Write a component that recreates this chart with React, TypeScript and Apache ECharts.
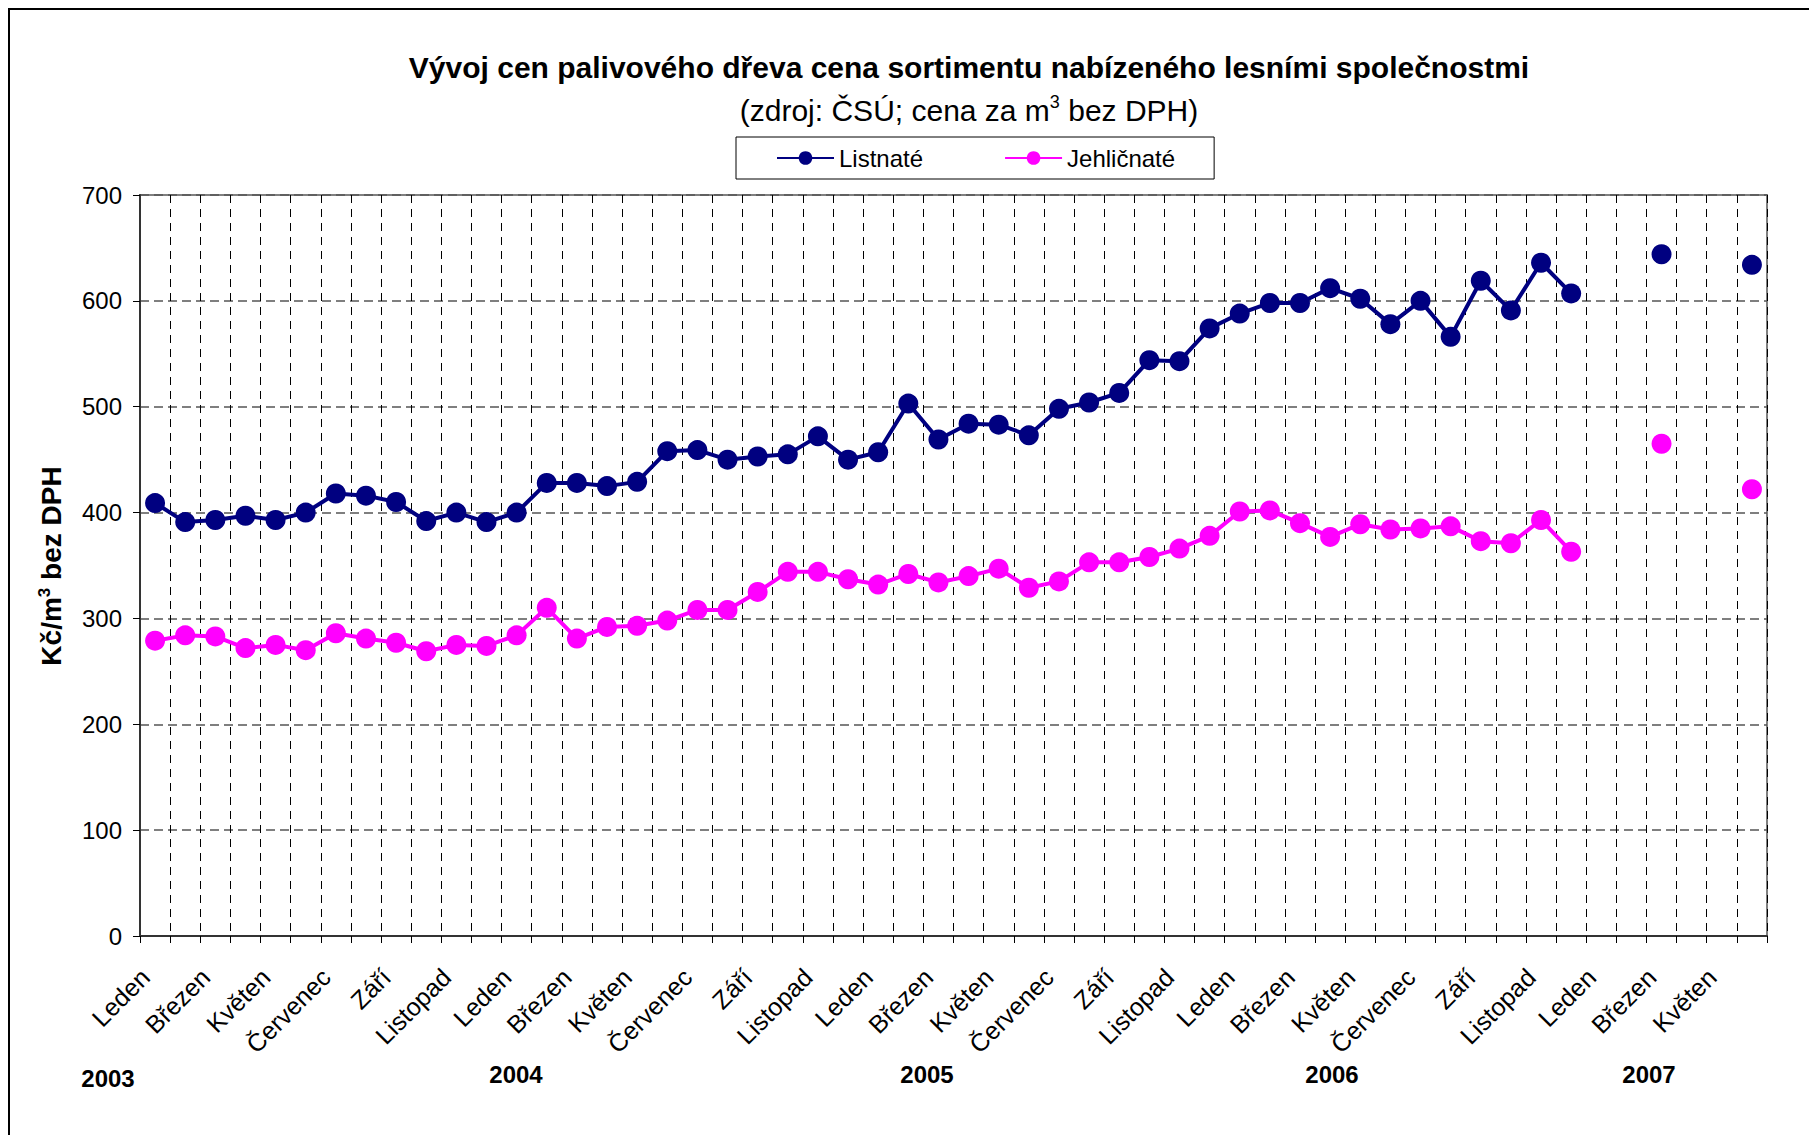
import React, { useEffect, useRef } from "react";
import * as echarts from "echarts";

const MONTHS = ["Leden", "Únor", "Březen", "Duben", "Květen", "Červen", "Červenec", "Srpen", "Září", "Říjen", "Listopad", "Prosinec"];
const YEARS = ["2003", "2004", "2005", "2006", "2007"];
const MONTHS_IN_LAST_YEAR = 6;

const LISTNATE: (number | null)[] = [
  409, 391, 393, 397, 393, 400, 418, 416, 410, 392, 400, 391,
  400, 428, 428, 425, 429, 458, 459, 450, 453, 455, 472, 450,
  457, 503, 469, 484, 483, 473, 498, 504, 513, 544, 543, 574,
  588, 598, 598, 612, 602, 578, 600, 566, 619, 591, 636, 607,
  null, null, 644, null, null, 634,
];

const JEHLICNATE: (number | null)[] = [
  279, 284, 283, 272, 275, 270, 286, 281, 277, 269, 275, 274,
  284, 310, 281, 292, 293, 298, 308, 308, 325, 344, 344, 337,
  332, 342, 334, 340, 347, 329, 335, 353, 353, 358, 366, 378,
  401, 402, 390, 377, 389, 384, 385, 387, 373, 371, 393, 363,
  null, null, 465, null, null, 422,
];

const Y_TICKS = { min: 0, max: 700, interval: 100 };

const TITLE = "Vývoj cen palivového dřeva cena sortimentu nabízeného lesními společnostmi";
const SUBTITLE = "(zdroj: ČSÚ; cena za m{sup|3} bez DPH)";
const Y_NAME = "{b|Kč/m}{s|3}{b| bez DPH}";

const FONT = "'Liberation Sans', Arial, sans-serif";

const categories: string[] = [];
YEARS.forEach((y, yi) => {
  const n = yi === YEARS.length - 1 ? MONTHS_IN_LAST_YEAR : MONTHS.length;
  for (let i = 0; i < n; i++) categories.push(MONTHS[i]);
});

const YEAR_LABEL_POS: [number, number][] = [
  [108, 1078],
  [516, 1074],
  [927, 1074],
  [1332, 1074],
  [1649, 1074],
];

export default function App() {
  const ref = useRef<HTMLDivElement>(null);
  useEffect(() => {
    if (!ref.current) return;
    const chart = echarts.init(ref.current, null, { renderer: "svg" });
    chart.setOption({
      animation: false,
      backgroundColor: "#fff",
      textStyle: { fontFamily: FONT },
      grid: {
        left: 140,
        right: 42,
        top: 195,
        bottom: 199,
        show: true,
        borderColor: "#808080",
        borderWidth: 2,
        backgroundColor: "transparent",
      },
      legend: {
        left: 736,
        top: 137,
        padding: [9, 39, 9, 40],
        itemWidth: 57,
        itemHeight: 17,
        itemGap: 81,
        borderColor: "#000",
        borderWidth: 1,
        textStyle: { fontSize: 24, color: "#000", fontFamily: FONT },
        data: ["Listnaté", "Jehličnaté"],
      },
      xAxis: {
        type: "category",
        data: categories,
        boundaryGap: true,
        axisLine: { lineStyle: { color: "#333", width: 2 } },
        axisTick: { show: true, interval: 0, length: 7, lineStyle: { color: "#000", width: 1 } },
        axisLabel: {
          interval: 1,
          rotate: 45,
          margin: 27,
          padding: [0, 14, 0, 0],
          fontSize: 25,
          color: "#000",
          fontFamily: FONT,
        },
        splitLine: {
          show: true,
          interval: 0,
          lineStyle: { color: "#000", width: 1, type: [8, 6] },
        },
      },
      yAxis: {
        type: "value",
        min: Y_TICKS.min,
        max: Y_TICKS.max,
        interval: Y_TICKS.interval,
        axisLine: { show: true, lineStyle: { color: "#333", width: 2 } },
        axisTick: { show: true, length: 7, lineStyle: { color: "#000" } },
        axisLabel: { fontSize: 24, margin: 18, color: "#000", fontFamily: FONT },
        splitLine: { show: true, lineStyle: { color: "#555", width: 1.5, type: [9, 5] } },
      },
      series: [
        {
          name: "Listnaté",
          type: "line",
          data: LISTNATE,
          symbol: "circle",
          symbolSize: 20,
          showAllSymbol: true,
          connectNulls: false,
          lineStyle: { color: "#000080", width: 4 },
          itemStyle: { color: "#000080" },
          z: 3,
        },
        {
          name: "Jehličnaté",
          type: "line",
          data: JEHLICNATE,
          symbol: "circle",
          symbolSize: 20,
          showAllSymbol: true,
          connectNulls: false,
          lineStyle: { color: "#FF00FF", width: 4 },
          itemStyle: { color: "#FF00FF" },
          z: 3,
        },
      ],
      graphic: [
        {
          type: "rect",
          z: 100,
          silent: true,
          shape: { x: 9, y: 9, width: 1900, height: 1300 },
          style: { fill: "none", stroke: "#000", lineWidth: 2 },
        },
        {
          type: "text",
          x: 969,
          y: 67,
          style: {
            text: TITLE,
            fill: "#000",
            font: `bold 30px ${FONT}`,
            align: "center",
            verticalAlign: "middle",
          },
        },
        {
          type: "text",
          x: 969,
          y: 110,
          style: {
            text: SUBTITLE,
            fill: "#000",
            font: `30px ${FONT}`,
            align: "center",
            verticalAlign: "middle",
            rich: {
              sup: { fontSize: 18, fontFamily: FONT, verticalAlign: "top", lineHeight: 34, padding: [0, 0, 14, 0] },
            },
          },
        },
        {
          type: "text",
          x: 51,
          y: 566,
          rotation: Math.PI / 2,
          style: {
            text: Y_NAME,
            fill: "#000",
            font: `bold 28px ${FONT}`,
            align: "center",
            verticalAlign: "middle",
            rich: {
              b: { fontSize: 28, fontWeight: "bold", fontFamily: FONT },
              s: { fontSize: 17, fontWeight: "bold", fontFamily: FONT, padding: [0, 0, 14, 0] },
            },
          },
        },
        ...YEARS.map((y, i) => ({
          type: "text",
          x: YEAR_LABEL_POS[i][0],
          y: YEAR_LABEL_POS[i][1],
          style: {
            text: y,
            fill: "#000",
            font: `bold 24px ${FONT}`,
            align: "center",
            verticalAlign: "middle",
          },
        })),
      ],
    });
    return () => chart.dispose();
  }, []);
  return (
    <div
      ref={ref}
      style={{ position: "absolute", left: 0, top: 0, width: 1809, height: 1135, background: "#fff" }}
    />
  );
}
